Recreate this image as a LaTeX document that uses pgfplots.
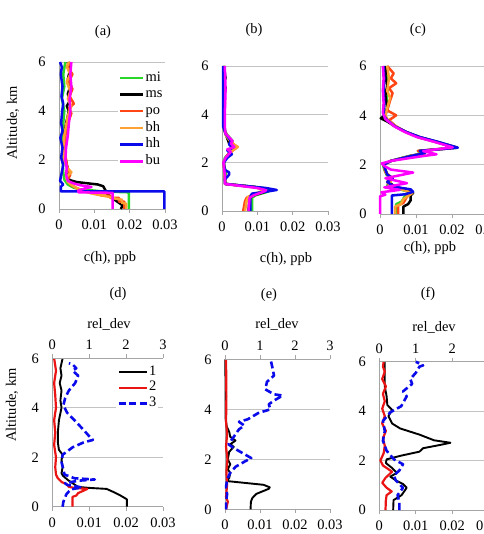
\documentclass[border=0pt]{standalone}
\usepackage{fontspec}
\setmainfont{Liberation Serif}
\usepackage{pgfplots}
\pgfplotsset{compat=1.18}

\definecolor{cmi}{RGB}{40,215,40}
\definecolor{cms}{RGB}{0,0,0}
\definecolor{cpo}{RGB}{255,70,20}
\definecolor{cbh}{RGB}{255,160,50}
\definecolor{chh}{RGB}{10,10,235}
\definecolor{cbu}{RGB}{255,0,255}
\definecolor{cred}{RGB}{235,20,20}
\definecolor{axgray}{RGB}{165,165,165}
\definecolor{gridgray}{RGB}{195,195,195}

\newcommand{\fs}{\fontsize{14.5}{16}\selectfont}
\newcommand{\fl}{\fontsize{14.5}{16}\selectfont}

\pgfplotsset{
  panel/.style={
    scale only axis,
    xmin=0, xmax=0.03, ymin=0, ymax=6,
    axis x line=bottom, axis y line=left,
    axis line style={-, draw=axgray, line width=0.75bp},
    scaled x ticks=false, scaled y ticks=false,
    xtick={0,0.01,0.02,0.03}, xticklabels={0,0.01,0.02,0.03},
    ytick={0,2,4,6}, yticklabels={0,2,4,6},
    ymajorgrids, grid style={draw=gridgray, line width=0.75bp},
    tick align=outside, major tick length=4bp,
    xtick style={draw=axgray, line width=0.75bp},
    ytick style={draw=none},
    xticklabel style={font=\fs, yshift=-3.5bp},
    yticklabel style={font=\fs, xshift=-6bp},
    clip=false,
    every axis plot/.append style={line width=2.5bp, line join=round},
  },
  reltop/.style={
    scale only axis,
    xmin=0, xmax=3, ymin=0, ymax=6,
    axis x line=top, axis y line=none,
    axis line style={-, draw=axgray, line width=0.75bp},
    scaled x ticks=false,
    xtick={0,1,2,3}, xticklabels={0,1,2,3},
    ytick=\empty,
    tick align=outside, major tick length=4bp,
    xtick style={draw=axgray, line width=0.75bp},
    xticklabel style={font=\fs, yshift=1bp},
    clip=false,
    every axis plot/.append style={line join=round},
  },
  dev1/.style={black, line width=1.9bp},
  dev2/.style={cred, line width=2.2bp},
  dev3/.style={chh, line width=2.6bp, dash pattern=on 7bp off 3.5bp},
}

\begin{document}
\begin{tikzpicture}
\path[use as bounding box] (0bp,0bp) rectangle (484bp,534bp);

% ---------------- (a) ----------------
\begin{axis}[panel, at={(59bp,325bp)}, anchor=south west, width=106bp, height=147bp,
  legend style={at={(0.557,0.95)}, anchor=north west, draw=none, fill=white,
    inner sep=1bp, font=\fl, row sep=2.2bp,
    nodes={inner sep=1bp, text height=9.5bp, text depth=3bp}},
  legend cell align=left,
  legend image code/.code={\draw[#1] (0bp,0bp) -- (23bp,0bp);}]
\addplot[cmi] coordinates {(0.0198,0) (0.0198,0.68) (0.012,0.72) (0.008,0.78) (0.006,0.8) (0.004,0.88) (0.0025,1.0) (0.0015,1.2) (0.0012,1.5) (0.001,2.0) (0.0012,2.5) (0.001,3.0) (0.0012,3.5) (0.0015,4.0) (0.0008,4.5) (0.0015,5.0) (0.0012,5.5) (0.0018,6.0)};
\addlegendentry{mi}
\addplot[cms] coordinates {(0.0175,0) (0.018,0.15) (0.0165,0.3) (0.015,0.45) (0.0138,0.6) (0.013,0.8) (0.0125,0.93) (0.011,1.0) (0.008,1.05) (0.005,1.1) (0.003,1.18) (0.0025,1.3) (0.0028,1.5) (0.0022,1.8) (0.0018,2.1) (0.0015,2.5) (0.0015,3.0) (0.002,3.5) (0.0028,4.0) (0.0022,4.2) (0.003,4.4) (0.0025,4.7) (0.0032,5.0) (0.0025,5.3) (0.003,5.6) (0.0025,6.0)};
\addlegendentry{ms}
\addplot[cpo] coordinates {(0.0185,0) (0.0185,0.3) (0.017,0.3) (0.017,0.45) (0.0145,0.45) (0.0145,0.55) (0.012,0.55) (0.0115,0.62) (0.009,0.66) (0.007,0.72) (0.005,0.85) (0.0032,1.0) (0.0025,1.2) (0.0032,1.4) (0.0025,1.6) (0.002,2.0) (0.0015,2.5) (0.0018,3.0) (0.0025,3.5) (0.0035,3.9) (0.0028,4.1) (0.0042,4.3) (0.003,4.6) (0.0038,4.9) (0.0028,5.2) (0.0038,5.5) (0.0025,5.8) (0.0032,6.0)};
\addlegendentry{po}
\addplot[cbh] coordinates {(0.019,0) (0.019,0.22) (0.0178,0.25) (0.0178,0.38) (0.016,0.42) (0.014,0.5) (0.011,0.58) (0.0085,0.66) (0.006,0.78) (0.0042,0.92) (0.0025,1.1) (0.002,1.3) (0.0035,1.5) (0.0022,1.7) (0.0015,2.0) (0.0012,2.5) (0.0015,3.0) (0.002,3.4) (0.0025,3.8) (0.0035,4.2) (0.0025,4.5) (0.0032,4.8) (0.0022,5.2) (0.0032,5.5) (0.0022,5.8) (0.0028,6.0)};
\addlegendentry{bh}
\addplot[chh] coordinates {(0.0298,0) (0.0298,0.72) (0.0005,0.72) (0.0005,0.9) (0.0012,1.0) (0.0003,1.15) (0.0008,1.5) (0.0012,1.8) (0.0006,2.1) (0.001,2.5) (0.0004,2.9) (0.001,3.2) (0.0006,3.5) (0.0009,4.0) (0.0012,4.3) (0.0007,4.6) (0.001,5.0) (0.0005,5.5) (0.0008,5.8) (0.0003,6.0)};
\addlegendentry{hh}
\addplot[cbu] coordinates {(0.0152,0) (0.0152,0.66) (0.0055,0.68) (0.0055,0.76) (0.0075,0.84) (0.0092,0.9) (0.006,0.97) (0.004,1.05) (0.0025,1.15) (0.002,1.4) (0.0022,1.7) (0.0018,2.0) (0.002,2.5) (0.0025,3.0) (0.0028,3.5) (0.0032,4.0) (0.003,4.5) (0.0035,5.0) (0.0032,5.5) (0.0035,6.0)};
\addlegendentry{bu}
\end{axis}

% ---------------- (b) ----------------
\begin{axis}[panel, at={(222bp,323bp)}, anchor=south west, width=106bp, height=145bp]
\addplot[cmi] coordinates {(0.0085,0) (0.0085,0.55) (0.0095,0.65) (0.013,0.8) (0.014,0.88) (0.011,0.97) (0.001,1.12) (0.0008,1.4) (0.0012,1.6) (0.0005,1.9) (0.0008,2.2) (0.0025,2.45) (0.0035,2.65) (0.0025,2.8) (0.003,2.9) (0.0012,3.2) (0.0005,3.5) (0.0005,6)};
\addplot[cms] coordinates {(0.0075,0) (0.0078,0.55) (0.009,0.65) (0.012,0.78) (0.012,0.9) (0.009,1.0) (0.0008,1.12) (0.0008,1.5) (0.0005,2) (0.0015,2.3) (0.0025,2.5) (0.0035,2.65) (0.002,2.8) (0.001,3.2) (0.0005,3.5) (0.0005,4.5) (0.001,5.1) (0.0005,5.3) (0.001,5.5) (0.0005,6)};
\addplot[cpo] coordinates {(0.006,0) (0.0065,0.4) (0.007,0.55) (0.0085,0.65) (0.011,0.78) (0.0125,0.88) (0.01,0.97) (0.001,1.12) (0.0008,1.5) (0.0005,2) (0.0015,2.3) (0.003,2.5) (0.0043,2.65) (0.003,2.8) (0.0015,3.1) (0.0008,3.3) (0.0005,3.5) (0.0008,4.5) (0.0006,6)};
\addplot[cbh] coordinates {(0.0065,0) (0.007,0.45) (0.0075,0.6) (0.0095,0.72) (0.012,0.85) (0.0095,0.98) (0.001,1.12) (0.0008,1.5) (0.0005,2) (0.0015,2.3) (0.003,2.5) (0.0045,2.65) (0.0028,2.8) (0.0012,3.1) (0.0005,3.4) (0.0006,6)};
\addplot[chh] coordinates {(0.008,0) (0.008,0.6) (0.0085,0.72) (0.0125,0.8) (0.0155,0.87) (0.0125,0.95) (0.001,1.12) (0.0008,1.3) (0.002,1.5) (0.002,1.6) (0.0008,1.7) (0.0005,2.0) (0.0015,2.2) (0.0028,2.35) (0.0015,2.5) (0.003,2.62) (0.002,2.75) (0.0025,2.9) (0.001,3.2) (0.0003,3.5) (0.0003,6)};
\addplot[cbu] coordinates {(0.0075,0) (0.0078,0.55) (0.009,0.65) (0.0115,0.78) (0.0125,0.86) (0.01,0.95) (0.0008,1.12) (0.0008,1.5) (0.0004,2) (0.001,2.2) (0.0025,2.45) (0.0015,2.55) (0.0035,2.65) (0.0025,2.8) (0.003,2.9) (0.001,3.2) (0.0008,3.5) (0.0008,4) (0.001,5) (0.0008,6)};
\end{axis}

% ---------------- (c) ----------------
\begin{axis}[panel, at={(380bp,320bp)}, anchor=south west, width=108bp, height=148bp]
\addplot[cmi] coordinates {(0.0045,0) (0.0045,0.4) (0.006,0.5) (0.007,0.75) (0.0085,0.88) (0.005,1.02) (0.002,1.15) (0.003,1.4) (0.0018,1.6) (0.0012,1.8) (0.0008,2.0) (0.003,2.15) (0.008,2.35) (0.012,2.45) (0.0105,2.55) (0.016,2.63) (0.0205,2.7) (0.0155,2.92) (0.0105,3.12) (0.007,3.33) (0.0042,3.55) (0.002,3.8) (0.0012,4.0) (0.002,4.3) (0.0018,4.7) (0.0022,5.1) (0.0018,5.5) (0.002,5.9) (0.0018,6.0)};
\addplot[cms] coordinates {(0.0065,0) (0.0065,0.3) (0.0078,0.4) (0.0085,0.55) (0.0085,0.75) (0.0092,0.85) (0.0075,1.0) (0.004,1.1) (0.0025,1.3) (0.0035,1.45) (0.002,1.6) (0.0015,1.8) (0.001,2.0) (0.003,2.15) (0.0085,2.35) (0.0125,2.47) (0.011,2.56) (0.017,2.63) (0.0215,2.69) (0.016,2.92) (0.011,3.12) (0.0072,3.33) (0.0042,3.55) (0.002,3.75) (0.0002,3.88) (0.0015,4.0) (0.002,4.3) (0.0015,4.8) (0.002,5.2) (0.0015,5.6) (0.0018,6.0)};
\addplot[cpo] coordinates {(0.005,0) (0.005,0.35) (0.0065,0.45) (0.0075,0.7) (0.0085,0.85) (0.0065,1.0) (0.003,1.1) (0.002,1.3) (0.003,1.5) (0.0015,1.7) (0.001,2.0) (0.003,2.15) (0.0085,2.35) (0.0125,2.46) (0.0105,2.56) (0.0165,2.63) (0.0208,2.69) (0.016,2.9) (0.011,3.1) (0.0075,3.3) (0.0045,3.55) (0.0025,3.8) (0.0045,4.0) (0.002,4.2) (0.0028,4.6) (0.0035,4.9) (0.0025,5.1) (0.0045,5.3) (0.003,5.5) (0.0038,5.7) (0.002,6.0)};
\addplot[cbh] coordinates {(0.0042,0) (0.0042,0.3) (0.0058,0.4) (0.0065,0.6) (0.008,0.75) (0.009,0.85) (0.006,1.0) (0.0025,1.15) (0.0032,1.4) (0.0018,1.65) (0.001,2.0) (0.003,2.15) (0.0085,2.35) (0.0125,2.47) (0.0115,2.55) (0.017,2.63) (0.021,2.7) (0.0155,2.92) (0.0105,3.12) (0.007,3.33) (0.0045,3.55) (0.0022,3.8) (0.0015,4.0) (0.0022,4.4) (0.0028,4.7) (0.002,5.0) (0.0025,5.5) (0.002,6.0)};
\addplot[chh] coordinates {(0.0033,0) (0.0033,0.75) (0.007,0.8) (0.0092,0.9) (0.0085,1.0) (0.004,1.1) (0.002,1.3) (0.0035,1.45) (0.002,1.6) (0.0015,1.8) (0.001,2.0) (0.003,2.15) (0.0085,2.35) (0.0125,2.47) (0.011,2.56) (0.017,2.63) (0.0216,2.69) (0.0162,2.92) (0.011,3.12) (0.0072,3.33) (0.0042,3.55) (0.002,3.8) (0.001,4.0) (0.0012,4.5) (0.001,5.0) (0.0012,5.5) (0.001,6.0)};
\addplot[cbu] coordinates {(0,0) (0,0.72) (0.0015,0.78) (0.0004,0.88) (0.0055,0.98) (0.0012,1.08) (0.0075,1.25) (0.0015,1.45) (0.0092,1.68) (0.003,1.8) (0.0012,1.95) (0.0005,2.05) (0.003,2.15) (0.012,2.35) (0.0157,2.42) (0.012,2.55) (0.016,2.63) (0.0202,2.7) (0.0152,2.92) (0.0102,3.12) (0.0068,3.33) (0.004,3.55) (0.0015,3.85) (0.0008,4.1) (0.001,4.5) (0.0008,5.0) (0.001,5.5) (0.0008,6.0)};
\end{axis}

% ---------------- (d) ----------------
\begin{axis}[panel, at={(52.3bp,27.3bp)}, anchor=south west, width=110.7bp, height=148.4bp]
\addplot[dev1] coordinates {(0.0202,0) (0.0202,0.3) (0.0185,0.45) (0.0165,0.6) (0.0147,0.72) (0.01,0.76) (0.007,0.8) (0.0055,0.95) (0.0043,1.07) (0.0029,1.25) (0.0025,1.35) (0.0028,1.6) (0.0025,1.9) (0.0028,2.1) (0.0018,2.3) (0.0015,2.6) (0.0015,3.0) (0.0018,3.5) (0.0025,4.0) (0.0022,4.3) (0.0025,4.7) (0.002,5.0) (0.0025,5.3) (0.0022,5.6) (0.0028,6.0)};
\addplot[dev2] coordinates {(0.0055,0) (0.0055,0.4) (0.0065,0.45) (0.007,0.55) (0.0085,0.65) (0.0095,0.72) (0.006,0.76) (0.0045,0.8) (0.004,0.9) (0.0025,1.0) (0.0015,1.15) (0.001,1.3) (0.0008,1.6) (0.001,2.0) (0.0005,2.5) (0.0008,3.0) (0.0005,3.5) (0.001,4.0) (0.0008,4.5) (0.0005,5.0) (0.001,5.5) (0.0005,6.0)};
\end{axis}
\begin{axis}[reltop, at={(52.3bp,27.3bp)}, anchor=south west, width=110.7bp, height=148.4bp,
  legend style={at={(0.578,0.965)}, anchor=north west, draw=none, fill=white,
    inner sep=1bp, font=\fl, row sep=1.3bp,
    nodes={inner sep=1bp, text height=9.5bp, text depth=3bp}},
  legend cell align=left,
  legend image code/.code={\draw[#1] (0bp,0bp) -- (28bp,0bp);}]
\addlegendimage{dev1}
\addlegendentry{1}
\addlegendimage{dev2}
\addlegendentry{2}
\addplot[dev3] coordinates {(0.28,0) (0.3,0.2) (0.38,0.5) (0.5,0.7) (0.8,0.78) (0.4,0.88) (0.35,0.95) (0.7,1.05) (1.15,1.1) (0.6,1.15) (0.33,1.3) (0.3,1.5) (0.25,1.8) (0.28,2.1) (0.55,2.4) (0.85,2.6) (1.1,2.7) (1.0,2.85) (0.85,3.1) (0.6,3.5) (0.4,3.8) (0.3,4.1) (0.35,4.4) (0.45,4.7) (0.62,5.0) (0.7,5.3) (0.55,5.5) (0.65,5.6) (0.55,5.75) (0.45,5.8)};
\addlegendentry{3}
\end{axis}

% ---------------- (e) ----------------
\begin{axis}[panel, at={(225bp,24.7bp)}, anchor=south west, width=105bp, height=150bp]
\addplot[dev1] coordinates {(0.0073,0) (0.0074,0.3) (0.0078,0.45) (0.009,0.62) (0.0125,0.82) (0.0128,0.88) (0.011,0.98) (0.004,1.08) (0.0005,1.13) (0.0012,1.25) (0.0015,1.45) (0.0008,1.6) (0.0015,1.8) (0.0008,2.0) (0.0012,2.3) (0.0025,2.5) (0.0015,2.6) (0.003,2.75) (0.0015,2.9) (0.0012,3.1) (0.0005,3.3) (0.0002,3.6) (0.0001,6)};
\addplot[dev2] coordinates {(0.0003,0) (0.0008,0.3) (0.0003,0.5) (0.0006,1.0) (0.0004,1.5) (0.0007,2.0) (0.0003,2.5) (0.0006,3.0) (0.0003,3.5) (0.0004,4.5) (0.0003,6)};
\end{axis}
\begin{axis}[reltop, at={(225bp,24.7bp)}, anchor=south west, width=105bp, height=150bp]
\addplot[dev3] coordinates {(0.03,0) (0.03,0.3) (0.06,0.6) (0.03,0.9) (0.06,1.17) (0.14,1.44) (0.3,1.7) (0.55,1.9) (0.75,2.05) (0.5,2.25) (0.25,2.45) (0.1,2.6) (0.2,2.8) (0.3,3.0) (0.4,3.2) (0.55,3.35) (0.4,3.5) (0.65,3.6) (0.95,3.85) (1.3,4.0) (1.25,4.2) (1.4,4.35) (1.65,4.55) (1.4,4.6) (1.15,4.8) (1.2,5.1) (1.4,5.35) (1.35,5.7) (1.3,6.0)};
\end{axis}

% ---------------- (f) ----------------
\begin{axis}[panel, at={(379.3bp,24bp)}, anchor=south west, width=109.5bp, height=148.3bp]
\addplot[dev1] coordinates {(0.0038,0) (0.0039,0.4) (0.0061,0.6) (0.0075,0.9) (0.0065,1.05) (0.0045,1.2) (0.003,1.35) (0.0048,1.5) (0.0035,1.7) (0.0018,1.9) (0.002,2.05) (0.006,2.2) (0.011,2.36) (0.012,2.5) (0.0166,2.63) (0.0195,2.72) (0.015,2.82) (0.011,3.05) (0.0057,3.3) (0.0035,3.5) (0.0025,3.8) (0.0035,4.05) (0.0022,4.25) (0.002,4.6) (0.0015,5.0) (0.0015,6.0)};
\addplot[dev2] coordinates {(0.0017,0) (0.0018,0.4) (0.002,0.6) (0.0034,0.75) (0.002,0.9) (0.0008,1.1) (0.0017,1.3) (0.0035,1.55) (0.002,1.7) (0.001,1.8) (0.0003,2.0) (0.0012,2.3) (0.0015,2.6) (0.001,2.9) (0.0018,3.2) (0.0008,3.5) (0.0015,3.8) (0.0008,4.1) (0.0015,4.4) (0.001,4.7) (0.0018,5.0) (0.0008,5.3) (0.0015,5.6) (0.001,5.8) (0.0012,6.0)};
\end{axis}
\begin{axis}[reltop, at={(379.3bp,24bp)}, anchor=south west, width=109.5bp, height=148.3bp]
\addplot[dev3] coordinates {(0.55,0) (0.55,0.3) (0.5,0.6) (0.65,0.9) (0.45,1.2) (0.4,1.4) (0.55,1.6) (0.65,1.85) (0.4,2.05) (0.2,2.4) (0.1,2.8) (0.15,3.2) (0.1,3.6) (0.3,3.95) (0.6,4.2) (0.75,4.6) (0.65,4.8) (0.9,5.1) (0.85,5.3) (1.0,5.55) (1.1,5.8) (1.2,5.85) (1.0,6.0)};
\end{axis}

% ---------------- titles and labels ----------------
\node[font=\fl] at (103bp,502bp) {(a)};
\node[font=\fl] at (254bp,504bp) {(b)};
\node[font=\fl] at (418bp,504bp) {(c)};
\node[font=\fl] at (118bp,240bp) {(d)};
\node[font=\fl] at (269bp,239bp) {(e)};
\node[font=\fl] at (428bp,240bp) {(f)};
\node[font=\fl] at (110bp,276bp) {c(h), ppb};
\node[font=\fl] at (286bp,275bp) {c(h), ppb};
\node[font=\fl] at (430bp,286bp) {c(h), ppb};
\node[font=\fl] at (109bp,210bp) {rel\_dev};
\node[font=\fl] at (277bp,210bp) {rel\_dev};
\node[font=\fl] at (434bp,207bp) {rel\_dev};
\node[font=\fl, rotate=90] at (13bp,411bp) {Altitude, km};
\node[font=\fl, rotate=90] at (12bp,129bp) {Altitude, km};
\end{tikzpicture}
\end{document}
